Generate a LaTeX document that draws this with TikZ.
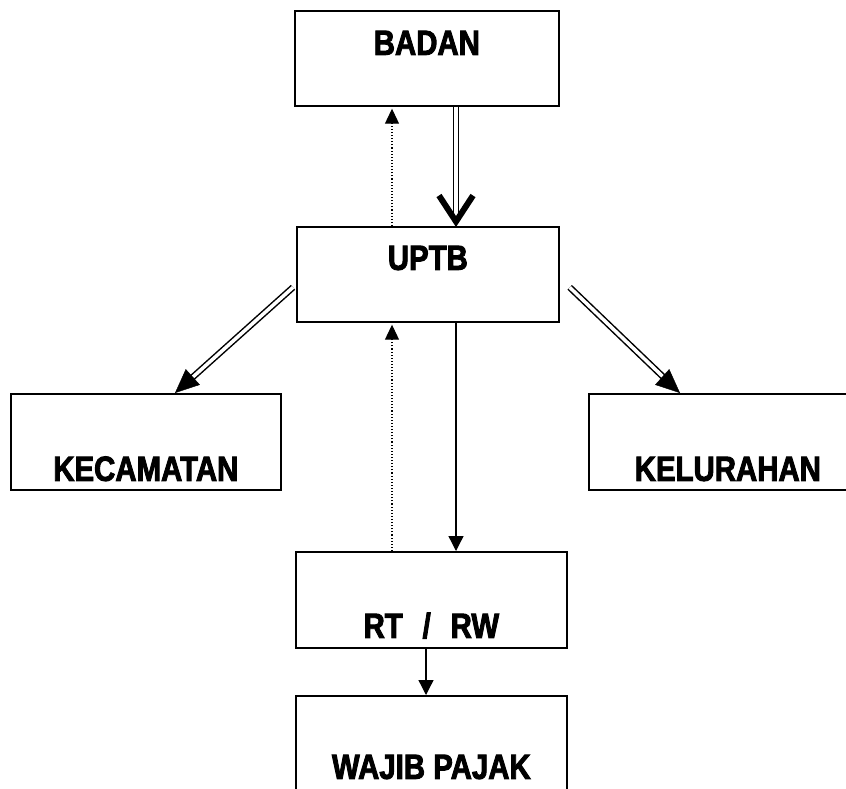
\documentclass[tikz,border=0pt]{standalone}
\usepackage{fontspec}
\usepackage{tikz}
\usetikzlibrary{arrows.meta,positioning}
\newfontfamily\boxfont{Liberation Sans}[FakeStretch=0.84, FakeBold=2.5]
\tikzset{bx/.style={draw, line width=1.7pt, inner sep=0pt, anchor=north west,
  font=\boxfont\bfseries\fontsize{35}{40}\selectfont}}
\tikzset{dd/.style={draw, double, line width=1.5pt, double distance=3.5pt}}
\tikzset{vv/.style={draw, line width=0.5pt, -{Straight Barb[length=26pt, width=34pt, line width=6pt]}}}
\tikzset{tt/.style={draw, -{Triangle[length=24pt, width=21pt]}}}
\tikzset{s/.style={draw, line width=1.3pt, -{Triangle[length=15pt, width=15pt]}}}
\tikzset{d/.style={draw, line width=1.1pt, dotted, -{Triangle[length=15pt, width=14pt]}}}

\begin{document}
\begin{tikzpicture}[x=1pt, y=-1pt]
  \useasboundingbox (0,0) rectangle (846,788);
  %%
  \node (badan) at (294,10) [bx, minimum width=264pt, text height=44pt, text depth=51pt] {BADAN};
  \node (uptb) at (296,226) [bx, minimum width=262pt, text height=43pt, text depth=52pt] {UPTB};
  \node (kec) at (10,393) [bx, minimum width=270pt, text height=87pt, text depth=9pt] {KECAMATAN};
  \node (kel) at (588,393) [bx, minimum width=278pt, text height=87pt, text depth=9pt] {KELURAHAN};
  \node (rtrw) at (295,551) [bx, minimum width=271pt, text height=86pt, text depth=10pt] {RT\,\, /\,\, RW};
  \node (wp) at (295,695) [bx, minimum width=271pt, text height=83pt, text depth=13pt] {WAJIB PAJAK};
  %%
  \path[dd, shorten >=6pt] ([xshift=162pt]badan.south west) to ([xshift=160pt]uptb.north west);
  \path[vv] ([xshift=160pt,yshift=2pt]uptb.north west) to ([xshift=160pt,yshift=-1pt]uptb.north west);
  \path[d] ([xshift=96pt]uptb.north west) to ([xshift=98pt,yshift=-2pt]badan.south west);
  %%
  \path[dd, shorten >=18pt] ([xshift=-3pt,yshift=-13pt]uptb.west) to ([xshift=165pt]kec.north west);
  \path[tt] ([xshift=175pt,yshift=9pt]kec.north west) to ([xshift=165pt]kec.north west);
  \path[dd, shorten >=18pt] ([xshift=10pt,yshift=-13pt]uptb.east) to ([xshift=92pt]kel.north west);
  \path[tt] ([xshift=82pt,yshift=9pt]kel.north west) to ([xshift=92pt]kel.north west);
  %%
  \path[s] ([xshift=160pt]uptb.south west) to ([xshift=161pt]rtrw.north west);
  \path[d] ([xshift=97pt]rtrw.north west) to ([xshift=96pt,yshift=-2pt]uptb.south west);
  \path[s] ([xshift=131pt]rtrw.south west) to ([xshift=131pt]wp.north west);
\end{tikzpicture}
\end{document}
